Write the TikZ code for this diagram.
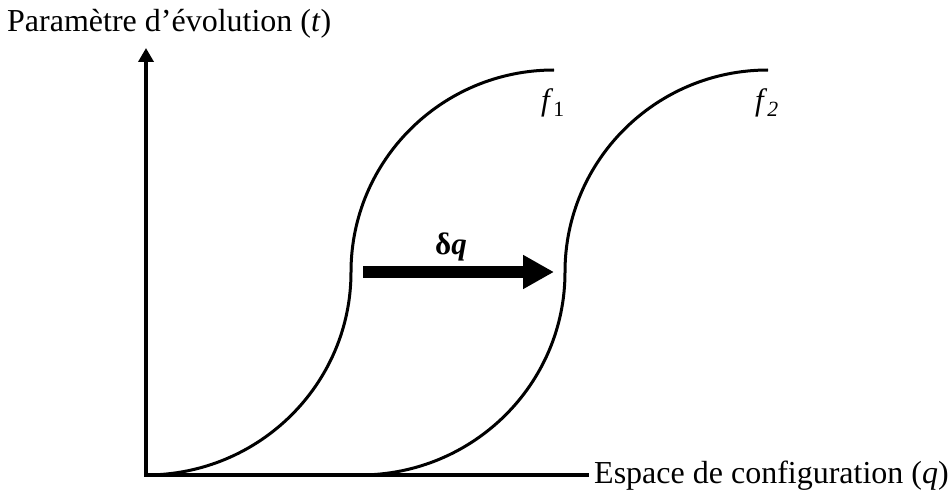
\documentclass[tikz,border=0pt]{standalone}
\usepackage{fontspec}
\setmainfont{Liberation Serif}
\usetikzlibrary{arrows.meta}
\begin{document}
\begin{tikzpicture}[x=1pt,y=1pt,
  axisline/.style={line width=4.5pt},
  curveline/.style={line width=3pt},
  lbl/.style={inner sep=0pt, font=\fontsize{32}{38}\selectfont},
  dqlbl/.style={inner sep=0pt, font=\fontsize{31}{37}\selectfont\bfseries},
  flbl/.style={inner sep=0pt, anchor=base west, font=\fontsize{31}{37}\selectfont},
  shiftarrow/.style={line width=12pt, -{Triangle[width=32pt,length=31pt]}}]
\useasboundingbox (0,0) rectangle (949,496);
\coordinate (O) at (146,21);
\coordinate (ytop) at (146,448);
\coordinate (xend) at (587,21);
\coordinate (s1) at (146,21);
\coordinate (s2) at (360,21);
\coordinate (a1) at (363,224);
\coordinate (a2) at (554,224);
% axes
\draw[axisline, -{Triangle[width=15pt,length=14pt]}] (O) -- (ytop);
\draw[axisline, line cap=rect] (O) -- (xend);
% curves
\draw[curveline] (s1) arc[start angle=-90, end angle=0, x radius=205pt, y radius=203pt]
  arc[start angle=180, end angle=90, x radius=203pt, y radius=202pt];
\draw[curveline] (s2) arc[start angle=-90, end angle=0, x radius=205pt, y radius=203pt]
  arc[start angle=180, end angle=90, x radius=203pt, y radius=202pt];
% shift arrow
\draw[shiftarrow] (a1) -- (a2);
\node[dqlbl] (dq) at (451,249) {δ\textit{q}};
% labels
\node[lbl, anchor=base west] (tlabel) at (7,464) {Paramètre d’évolution (\textit{t})};
\node[lbl, anchor=base west] (qlabel) at (594,13) {Espace de configuration (\textit{q})};
\node[flbl] (f1) at (541,385) {\textit{f}\textsubscript{1}};
\node[flbl] (f2) at (755,385) {\textit{f}\textsubscript{\textit{2}}};
\end{tikzpicture}
\end{document}
